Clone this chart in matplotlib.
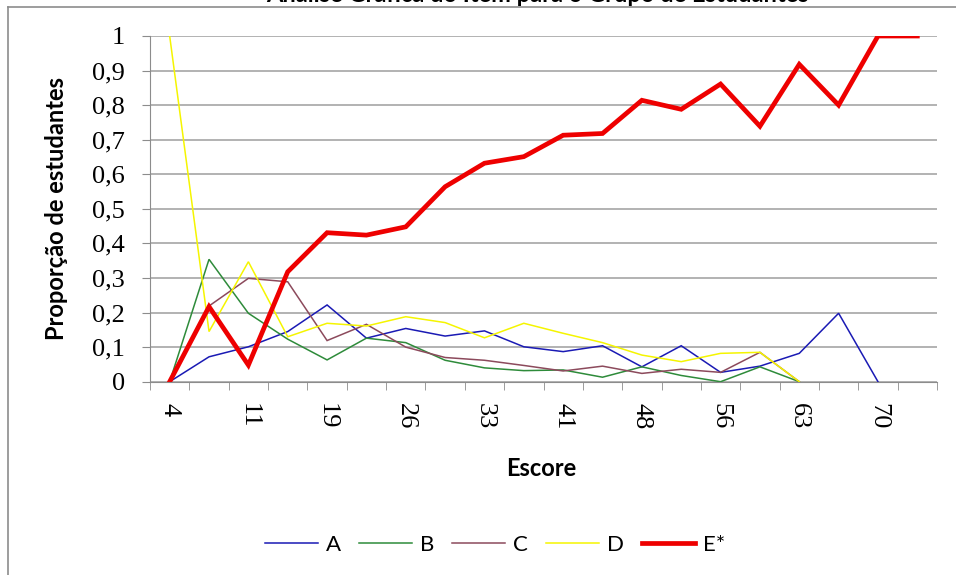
import numpy as np
import matplotlib
matplotlib.use("Agg")
import matplotlib.pyplot as plt
from matplotlib.lines import Line2D

# categorias de escore (so metade aparece no eixo)
escores = ["4", "8", "11", "15", "19", "22", "26", "30", "33", "37",
           "41", "45", "48", "52", "56", "59", "63", "67", "70", "74"]

# proporcao de estudantes por alternativa
serie_a = [0, 0.072, 0.101, 0.145, 0.222, 0.126, 0.154, 0.132, 0.147, 0.101,
           0.087, 0.104, 0.043, 0.104, 0.027, 0.045, 0.082, 0.198, 0.0]
serie_b = [0, 0.354, 0.198, 0.123, 0.063, 0.126, 0.113, 0.062, 0.040, 0.032,
           0.034, 0.013, 0.043, 0.018, 0.0, 0.043, 0.0]
serie_c = [0, 0.219, 0.299, 0.289, 0.119, 0.166, 0.100, 0.070, 0.062, 0.047,
           0.031, 0.045, 0.024, 0.036, 0.027, 0.085, 0.0]
serie_d = [1.0, 0.145, 0.347, 0.130, 0.169, 0.161, 0.188, 0.171, 0.127, 0.169,
           0.140, 0.113, 0.077, 0.058, 0.082, 0.085, 0.0]
serie_e = [0, 0.217, 0.048, 0.318, 0.431, 0.424, 0.448, 0.564, 0.632, 0.651,
           0.713, 0.718, 0.814, 0.788, 0.861, 0.739, 0.918, 0.800, 1.0, 1.0]

nomes = ["A", "B", "C", "D", "E*"]
cores = ["#1a1ab4", "#2e8b3a", "#8c4a5c", "#f5f500", "#ee0000"]
larguras = [1.1, 1.1, 1.1, 1.1, 3.4]

fig = plt.figure(figsize=(9.56, 5.75), dpi=100)
ax = fig.add_axes([150 / 956, 1 - 381.7 / 575, 787 / 956, 345.7 / 575])

for serie, nome, cor, lw in zip([serie_a, serie_b, serie_c, serie_d, serie_e],
                                nomes, cores, larguras):
    ax.plot(np.arange(len(serie)), serie, color=cor, lw=lw, label=nome,
            solid_joinstyle="miter")

ax.set_xlim(-0.5, len(escores) - 0.5)
ax.set_ylim(0, 1)

# eixo y
ax.set_yticks(np.arange(0, 1.01, 0.1))
ax.set_yticklabels(["0"] + ["0,%d" % i for i in range(1, 10)] + ["1"],
                   fontfamily="Liberation Serif", fontsize=19)
ax.yaxis.grid(True, color="#a6a6a6", lw=1.2)
ax.tick_params(axis="y", length=6, color="#8c8c8c", pad=12)

# eixo x: tracos nas divisas, rotulos a cada duas categorias
pos = np.arange(0, len(escores), 2)
ax.set_xticks(pos)
ax.set_xticklabels([escores[i] for i in pos], rotation=-90,
                   fontfamily="Liberation Serif", fontsize=19)
ax.set_xticks(np.arange(-0.5, len(escores)), minor=True)
ax.tick_params(axis="x", which="major", length=0, pad=15)
ax.tick_params(axis="x", which="minor", length=6, color="#8c8c8c")

for lado in ["top", "right"]:
    ax.spines[lado].set_visible(False)
ax.spines["left"].set_color("#8c8c8c")
ax.spines["bottom"].set_color("#8c8c8c")
ax.set_axisbelow(True)

fig.text(541 / 956, 1 - 468 / 575, "Escore", ha="center", va="center",
         fontfamily="Lato", fontweight="bold", fontsize=17)
fig.text(57 / 956, 1 - 209 / 575, "Proporção de estudantes", rotation=90,
         ha="center", va="center", fontfamily="Lato", fontweight="bold", fontsize=17)

# titulo (cortado no topo na imagem original)
fig.text(537 / 956, 1 - 2 / 575, "Análise Gráfica do Item para o Grupo de Estudantes",
         ha="center", va="baseline", fontfamily="Lato", fontweight="bold", fontsize=17)

# moldura do grafico
fig.add_artist(Line2D([8 / 956, 8 / 956], [0, 1 - 7 / 575], color="#8c8c8c", lw=1.2))
fig.add_artist(Line2D([8 / 956, 1], [1 - 7 / 575, 1 - 7 / 575], color="#8c8c8c", lw=1.2))

fig.legend(loc="center", bbox_to_anchor=(495 / 956, 1 - 545 / 575), ncol=5,
           frameon=False, handlelength=2.4, handletextpad=0.35, columnspacing=0.8,
           prop={"family": "Lato", "size": 16})

fig.savefig("out.png", dpi=100)
